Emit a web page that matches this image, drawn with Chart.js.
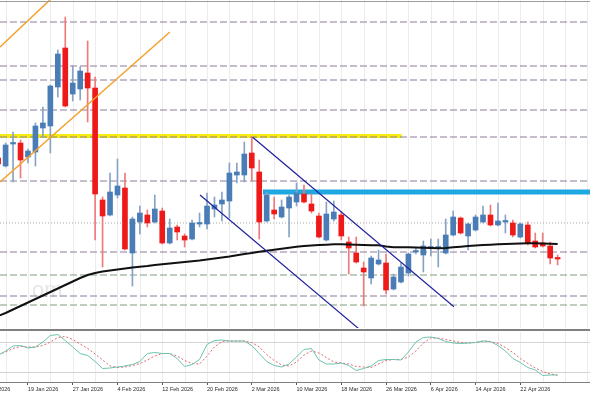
<!DOCTYPE html>
<html>
<head>
<meta charset="utf-8">
<script src="https://cdn.jsdelivr.net/npm/chart.js@4.4.1/dist/chart.umd.min.js"></script>
<style>
    html, body { margin: 0; padding: 0; background: #fff; }
    #wrap { position: relative; width: 590px; height: 393px; overflow: hidden; }
    #main { position: absolute; left: 0; top: 0; }
    #osc { position: absolute; left: 0; top: 330px; }
    .rule { position: absolute; left: 0; width: 590px; }
</style>
</head>
<body>
<div id="wrap">
    <canvas id="main" width="590" height="328"></canvas>
    <div class="rule" style="top:1px;height:1px;background:#9c9c9c"></div>
    <div class="rule" style="top:329px;height:2px;background:#808080"></div>
    <canvas id="osc" width="590" height="63"></canvas>
</div>
<script>
// Handelsdager: indeks 0 = 13 Jan 2026, indeks 75 = 29 Apr 2026
const opens = [170,162,184,185,171,176,200,202,241,280,
    234,239,255,240,128,113,133,140,75,106,
    113,106,117,85,101,92,89,104,104,119,
    124,127,153,153,175,156,107,118,111,120,
    126,134,124,112,88,109,113,86,75,60,
    50,64,65,39,46,55,76,73,80,80,
    75,93,110,92,98,106,113,103,106,105,
    91,103,87,85,82,70];
const highs = [172,185,196,188,179,205,221,243,278,311,
    262,261,287,251,131,155,169,155,111,122,
    118,133,120,109,103,94,108,115,135,131,
    136,165,165,186,191,168,136,131,128,133,
    145,143,134,115,126,127,116,91,91,66,
    72,78,74,54,65,75,81,87,89,89,
    109,117,111,105,113,122,123,125,113,108,
    105,106,95,95,86,73];
const lows = [162,161,146,150,165,162,191,175,231,221,
    227,228,206,88,61,112,130,78,42,94,
    101,105,84,84,88,81,88,101,99,111,
    107,110,145,146,147,89,106,109,110,91,
    122,125,115,90,87,107,88,54,65,22,
    44,63,34,38,45,52,74,56,72,61,
    74,92,94,78,97,105,102,102,95,91,
    90,83,80,81,64,63];
const closes = [164,183,185,168,177,202,205,242,274,222,
    245,257,240,134,112,136,142,79,109,115,
    105,119,85,100,96,88,105,105,122,123,
    128,155,156,174,160,106,133,114,121,131,
    135,126,117,91,114,116,92,80,66,56,
    70,68,38,51,61,74,77,82,81,81,
    93,111,95,104,111,113,103,107,107,93,
    104,85,81,82,70,69];

// Glidende gjennomsnitt (svart linje)
const movingAvg = [12,15,18.5,22,25.5,29,32.5,36,39.5,43,
    46.5,50,53,55,56.5,57.5,58.5,59.5,60.5,61.3,
    62,63,63.7,64.5,65.3,66,66.7,67.5,68.5,69.5,
    70.5,71.5,72.7,74,75,76.3,77.3,78.3,79.3,80.3,
    81.3,82,82.5,83,83.3,83.7,83.7,83.5,83.3,83,
    82.8,82.7,81.5,80.7,80.7,80.7,80.5,80.3,80,79.8,
    80,80.7,81.3,82,82.5,83,83.3,83.7,84,84.3,
    84.5,84.7,84.7,84.5,84.3,84];

// Stokastisk oscillator
const stochK = [53,62,72,73,68,70,80,93,95,83,
    70,57,53,41,27,28,30,32,35,41,
    57,59,57,57,47,31,35,45,75,83,
    84,82,82,82,73,57,41,33,30,36,
    50,65,67,44,36,36,38,33,23,27,
    32,43,45,45,44,60,80,89,90,87,
    81,78,77,78,79,82,81,73,62,47,
    39,29,24,13,14,14];
const stochD = [55,60,67,71,70,70,73,80,89,91,
    85,76,67,56,44,32,29,30,33,37,
    44,52,57,57,52,43,37,36,52,70,
    81,82,82,82,79,70,55,43,34,32,
    40,54,62,58,49,40,38,36,31,30,
    29,36,43,45,45,50,62,78,88,88,
    85,82,79,78,79,82,81,77,69,59,
    47,37,28,21,16,14];

// Datoetiketter
const tickIdx = [-2, 4, 10, 16, 22, 28, 34, 40, 46, 52, 58, 64, 70];
const tickLabels = ['9 Jan 2026', '19 Jan 2026', '27 Jan 2026', '4 Feb 2026', '12 Feb 2026',
    '20 Feb 2026', '2 Mar 2026', '10 Mar 2026', '18 Mar 2026', '26 Mar 2026',
    '6 Apr 2026', '14 Apr 2026', '22 Apr 2026'];

// Horisontale nivåer
const dashedLevels = [306, 262, 248, 218, 191, 147, 76, 32];
const greenLevels = [53, 23];
const dottedLevels = [105];
const yellowLevel = 192;
const yellowRange = [0.25, 54.1];
const cyanLevel = 136;
const cyanRange = [35.5, 79.34];

// Trendlinjer: [indeks, verdi]
const orangeUpper = [[0.25, 281], [7.5, 332]];
const orangeLower = [[0.25, 146], [23.03, 296]];
const channelTop = [[34.12, 190.7], [61.1, 21.3]];
const channelBottom = [[27.06, 133], [48.7, -3]];

const xMin = 0.25, xMax = 79.34;
const upColor = '#4a7db6', downColor = '#ee1a1a';
const upWick = '#86a3c6', downWick = '#f07a7a';

function isUp(i) { return closes[i] >= opens[i]; }

function lineSet(points, color, width, dash, order) {
    return {
        type: 'line',
        data: points.map(p => ({ x: p[0], y: p[1] })),
        borderColor: color,
        borderWidth: width,
        borderDash: dash || [],
        pointRadius: 0,
        fill: false,
        order: order
    };
}

const gridPlugin = {
    id: 'vgrid',
    beforeDatasetsDraw(chart, args, opts) {
        const { ctx, chartArea, scales } = chart;
        ctx.save();
        ctx.strokeStyle = '#ececec';
        ctx.lineWidth = 1;
        for (let v = 1; v < xMax; v += 3) {
            const px = Math.round(scales.x.getPixelForValue(v)) + 0.5;
            ctx.beginPath();
            ctx.moveTo(px, chartArea.top);
            ctx.lineTo(px, chartArea.bottom);
            ctx.stroke();
        }
        if (opts.levels) {
            ctx.strokeStyle = '#d4d4d4';
            opts.levels.forEach(l => {
                const py = Math.round(scales.y.getPixelForValue(l)) + 0.5;
                ctx.beginPath();
                ctx.moveTo(chartArea.left, py);
                ctx.lineTo(chartArea.right, py);
                ctx.stroke();
            });
        }
        if (opts.watermark) {
            ctx.fillStyle = '#e6e6e6';
            ctx.font = '22px "Liberation Sans", Arial, sans-serif';
            ctx.textBaseline = 'alphabetic';
            ctx.fillText(opts.watermark, 32, 297);
        }
        ctx.restore();
    }
};

const mainSets = [];
dashedLevels.forEach(v => mainSets.push(lineSet([[xMin, v], [xMax, v]], '#8c7c9a', 1, [7, 3], 11)));
greenLevels.forEach(v => mainSets.push(lineSet([[xMin, v], [xMax, v]], '#7f9c7f', 1, [7, 3], 11)));
dottedLevels.forEach(v => mainSets.push(lineSet([[xMin, v], [xMax, v]], '#a6a6a6', 1, [1, 2], 11)));
mainSets.push(lineSet([[yellowRange[0], yellowLevel], [yellowRange[1], yellowLevel]], '#f6ec12', 4, null, 12));
mainSets.push(lineSet([[cyanRange[0], cyanLevel], [cyanRange[1], cyanLevel]], '#1ea8e2', 5, null, 12));

// Lys: veker og kropper
mainSets.push({
    type: 'bar',
    data: highs.map((h, i) => ({ x: i, y: [lows[i], h] })),
    backgroundColor: c => isUp(c.dataIndex) ? upWick : downWick,
    barThickness: 1,
    grouped: false,
    order: 8
});
mainSets.push({
    type: 'bar',
    data: opens.map((o, i) => ({ x: i, y: [o, closes[i]] })),
    backgroundColor: c => isUp(c.dataIndex) ? upColor : downColor,
    barThickness: 5,
    minBarLength: 1.5,
    grouped: false,
    order: 7
});

mainSets.push({
    type: 'line',
    data: movingAvg.map((v, i) => ({ x: i, y: v })),
    borderColor: '#111111',
    borderWidth: 2,
    pointRadius: 0,
    fill: false,
    order: 6
});
mainSets.push(lineSet(orangeUpper, '#f2a22e', 1.5, null, 5));
mainSets.push(lineSet(orangeLower, '#f2a22e', 1.5, null, 5));
mainSets.push(lineSet(channelTop, '#23239e', 1.2, null, 5));
mainSets.push(lineSet(channelBottom, '#23239e', 1.2, null, 5));

new Chart(document.getElementById('main'), {
    type: 'bar',
    data: { datasets: mainSets },
    options: {
        responsive: false,
        animation: false,
        layout: { padding: 0 },
        scales: {
            x: { type: 'linear', min: xMin, max: xMax, offset: false, display: false },
            y: { min: 0, max: 328, display: false }
        },
        plugins: {
            legend: { display: false },
            tooltip: { enabled: false },
            vgrid: { watermark: 'om' }
        }
    },
    plugins: [gridPlugin]
});

new Chart(document.getElementById('osc'), {
    type: 'line',
    data: {
        datasets: [
            {
                data: stochK.map((v, i) => ({ x: i, y: v })),
                borderColor: '#6cc3ae',
                borderWidth: 1,
                pointRadius: 0,
                fill: false
            },
            {
                data: stochD.map((v, i) => ({ x: i, y: v })),
                borderColor: '#e06a6a',
                borderWidth: 1,
                borderDash: [2, 2],
                pointRadius: 0,
                fill: false
            }
        ]
    },
    options: {
        responsive: false,
        animation: false,
        layout: { padding: { top: 2, left: 0, right: 0, bottom: 0 } },
        scales: {
            x: {
                type: 'linear',
                min: xMin,
                max: xMax,
                offset: false,
                afterBuildTicks: axis => { axis.ticks = tickIdx.map(v => ({ value: v })); },
                afterFit: axis => { axis.paddingLeft = 0; axis.paddingRight = 0; axis.height = 11; },
                grid: { drawOnChartArea: false, drawTicks: true, tickLength: 3, tickColor: '#555' },
                border: { display: true, color: '#808080' },
                ticks: {
                    autoSkip: false,
                    maxRotation: 0,
                    align: 'start',
                    padding: 1,
                    color: '#2a2a2a',
                    font: { size: 5.5, family: '"Liberation Sans", Arial, sans-serif' },
                    callback: v => tickLabels[tickIdx.indexOf(v)]
                }
            },
            y: { min: 0, max: 100, display: false }
        },
        plugins: {
            legend: { display: false },
            tooltip: { enabled: false },
            vgrid: { levels: [80, 20] }
        }
    },
    plugins: [gridPlugin]
});
</script>
</body>
</html>
